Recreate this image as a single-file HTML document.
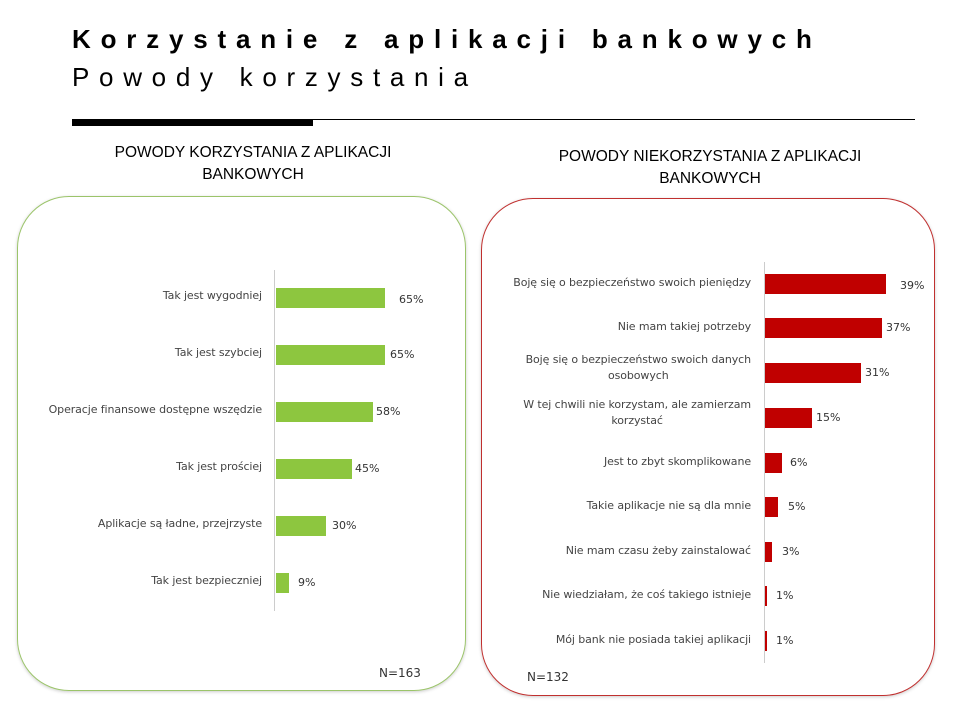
<!DOCTYPE html><html><head><meta charset="utf-8"><style>
body{margin:0;width:960px;height:720px;background:#fff;font-family:"DejaVu Sans","Liberation Sans",sans-serif;position:relative;overflow:hidden;color:#333}
.a{position:absolute;white-space:nowrap}
.t1{left:72px;top:24px;font:bold 26px "Liberation Sans",sans-serif;letter-spacing:9.8px;color:#000}
.t2{left:72px;top:62px;font:26px "Liberation Sans",sans-serif;letter-spacing:9.7px;color:#000}
.ct{font:15.5px "Liberation Sans",sans-serif;color:#000;text-align:center;line-height:22px}
.lab{font-size:11px;text-align:right;color:#444;letter-spacing:-0.1px}
.val{font-size:11px;color:#333}
.bar{position:absolute}
</style></head><body>
<div class="a t1">Korzystanie z aplikacji bankowych</div>
<div class="a t2">Powody korzystania</div>
<div class="a" style="left:72px;top:119px;width:843px;height:1px;background:#000"></div>
<div class="a" style="left:72px;top:120px;width:241px;height:6px;background:#000"></div>
<div class="a ct" style="left:53px;top:142px;width:400px">POWODY KORZYSTANIA Z APLIKACJI<br>BANKOWYCH</div>
<div class="a ct" style="left:510px;top:146px;width:400px">POWODY NIEKORZYSTANIA Z APLIKACJI<br>BANKOWYCH</div>
<div class="a" style="left:17px;top:196px;width:447px;height:493px;border:1.5px solid #9bc46a;border-radius:52px;box-shadow:0 1px 3px #ccc"></div>
<div class="a" style="left:481px;top:198px;width:452px;height:496px;border:1.5px solid #c0302f;border-radius:52px;box-shadow:0 1px 3px #ccc"></div>
<div class="a" style="left:274px;top:270px;width:1px;height:341px;background:#ccc"></div>
<div class="a" style="left:764px;top:262px;width:1px;height:401px;background:#ccc"></div>
<div id="L"></div><div id="R"></div>
<div class="a val" style="left:379px;top:666px;font-size:12px">N=163</div>
<div class="a val" style="left:527px;top:670px;font-size:12px">N=132</div>
<script>
var L=[["Tak jest wygodniej",65,288,399],["Tak jest szybciej",65,345,390],["Operacje finansowe dostępne wszędzie",58,402,376],["Tak jest prościej",45,459,355],["Aplikacje są ładne, przejrzyste",30,516,332],["Tak jest bezpieczniej",9,573,298]];
var h="";L.forEach(function(d){var w=d[1]*1.68;if(d[1]==9)w=13;h+='<div class="bar" style="left:276px;top:'+d[2]+'px;width:'+w+'px;height:20px;background:#8dc63f"></div><div class="a lab" style="right:'+(960-262)+'px;top:'+(d[2]+1)+'px">'+d[0]+'</div><div class="a val" style="left:'+d[3]+'px;top:'+(d[2]+(d[3]==399?5:3))+'px">'+d[1]+'%</div>';});
var R=[["Boję się o bezpieczeństwo swoich pieniędzy",39,274,121,900],["Nie mam takiej potrzeby",37,318,117,886],["Boję się o bezpieczeństwo swoich danych<br>osobowych",31,363,96,865],["W tej chwili nie korzystam, ale zamierzam<br>korzystać",15,408,47,816],["Jest to zbyt skomplikowane",6,453,17,790],["Takie aplikacje nie są dla mnie",5,497,13,788],["Nie mam czasu żeby zainstalować",3,542,7,782],["Nie wiedziałam, że coś takiego istnieje",1,586,2,776],["Mój bank nie posiada takiej aplikacji",1,631,2,776]];
R.forEach(function(d){var w=d[3];var two=d[0].indexOf("<br>")>0;h+='<div class="bar" style="left:765px;top:'+d[2]+'px;width:'+w+'px;height:20px;background:#c00000"></div><div class="a lab" style="right:'+(960-751)+'px;top:'+(two?d[2]-11:d[2]+1)+'px;line-height:16px;text-align:center">'+d[0]+'</div><div class="a val" style="left:'+d[4]+'px;top:'+(d[2]+(d[1]==39?5:3))+'px">'+d[1]+'%</div>';});
document.getElementById("L").innerHTML=h;
</script>
</body></html>
